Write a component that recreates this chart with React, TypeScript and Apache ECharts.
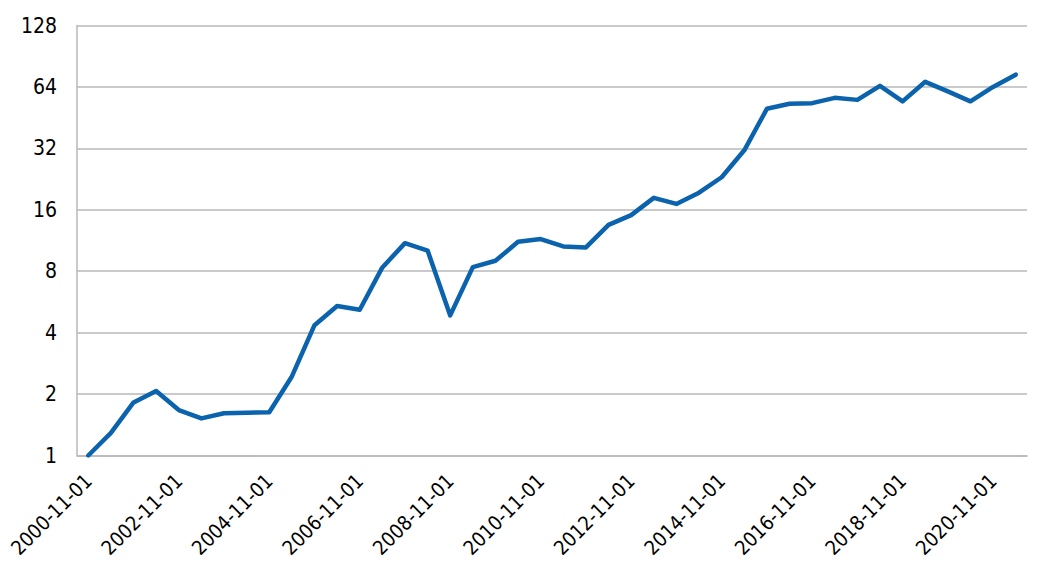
import React, { useEffect, useRef } from "react";
import * as echarts from "echarts";

// half-yearly dates, 2000-11 to 2021-05
const dates = [
  "2000-11-01", "2001-05-01", "2001-11-01", "2002-05-01", "2002-11-01", "2003-05-01",
  "2003-11-01", "2004-05-01", "2004-11-01", "2005-05-01", "2005-11-01", "2006-05-01",
  "2006-11-01", "2007-05-01", "2007-11-01", "2008-05-01", "2008-11-01", "2009-05-01",
  "2009-11-01", "2010-05-01", "2010-11-01", "2011-05-01", "2011-11-01", "2012-05-01",
  "2012-11-01", "2013-05-01", "2013-11-01", "2014-05-01", "2014-11-01", "2015-05-01",
  "2015-11-01", "2016-05-01", "2016-11-01", "2017-05-01", "2017-11-01", "2018-05-01",
  "2018-11-01", "2019-05-01", "2019-11-01", "2020-05-01", "2020-11-01", "2021-05-01",
];

const values = [
  1.0, 1.29, 1.82, 2.07, 1.67, 1.52, 1.61, 1.62, 1.63, 2.44, 4.35, 5.4,
  5.18, 8.35, 10.98, 10.1, 4.86, 8.38, 9.0, 11.15, 11.5, 10.58, 10.46, 13.5,
  15.06, 18.3, 17.1, 19.4, 23.1, 31.3, 50.0, 52.9, 53.3, 56.6, 55.3, 64.8,
  54.4, 67.8, 60.9, 54.4, 64.0, 73.5,
];

const yMin = 1;
const yMax = 128;

const font = "'DejaVu Sans Condensed', 'DejaVu Sans', sans-serif";

const App = () => {
  const chartRef = useRef<HTMLDivElement>(null);

  useEffect(() => {
    document.body.style.margin = "0";
    // narrow face, closer to the condensed font of the original
    const css = document.createElement("style");
    css.textContent = "#chart text { font-stretch: condensed !important; }";
    document.head.appendChild(css);

    const chart = echarts.init(chartRef.current as HTMLDivElement, undefined, { renderer: "svg" });

    chart.setOption({
      animation: false,
      grid: { left: 77, right: 14, top: 25.5, bottom: 112.5 },
      xAxis: {
        type: "category",
        data: dates,
        boundaryGap: true,
        axisLine: { lineStyle: { color: "#b8b8b8", width: 1.5 } },
        axisTick: { interval: 3, length: 8, lineStyle: { color: "#b0b0b0", width: 1.5 } },
        axisLabel: {
          interval: 3,
          rotate: 45,
          margin: 22,
          color: "#000",
          fontSize: 20,
          fontFamily: font,
        },
      },
      yAxis: {
        type: "log",
        logBase: 2,
        min: yMin,
        max: yMax,
        splitNumber: 7,
        axisLine: { show: true, lineStyle: { color: "#b8b8b8", width: 1.5 } },
        axisTick: { show: false },
        splitLine: { lineStyle: { color: "#b8b8b8", width: 1.5 } },
        axisLabel: {
          margin: 20,
          color: "#000",
          fontSize: 21,
          fontFamily: font,
          formatter: (v: number) => String(Math.round(v)),
        },
      },
      series: [
        {
          type: "line",
          data: values,
          symbol: "none",
          lineStyle: { color: "#0b63ad", width: 4.5, cap: "round", join: "round" },
        },
      ],
    });

    return () => {
      chart.dispose();
      css.remove();
    };
  }, []);

  return <div id="chart" ref={chartRef} style={{ width: "1041px", height: "568px" }} />;
};

export default App;
